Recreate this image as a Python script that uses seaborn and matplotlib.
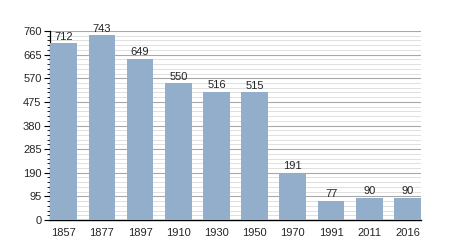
import matplotlib
matplotlib.use("Agg")
import matplotlib.pyplot as plt
import seaborn as sns
import numpy as np
from matplotlib.ticker import MultipleLocator

years = ["1857", "1877", "1897", "1910", "1930", "1950", "1970", "1991", "2011", "2016"]
population = [712, 743, 649, 550, 516, 515, 191, 77, 90, 90]
yticks = [0, 95, 190, 285, 380, 475, 570, 665, 760]

sns.set_style("white")
plt.rcParams['font.family'] = ['Liberation Sans', 'DejaVu Sans']

fig = plt.figure(figsize=(4.5, 2.5), dpi=100)
ax = fig.add_axes([0.111, 0.12, 0.825, 0.756])

sns.barplot(x=years, y=population, color="#93aecb", saturation=1, width=0.7,
            linewidth=0, edgecolor="none", ax=ax, zorder=3)

ax.set_ylim(0, 760)
ax.set_xlim(-0.36, 9.36)
ax.set_yticks(yticks)
ax.yaxis.set_minor_locator(MultipleLocator(19))
ax.grid(axis="y", which="major", color="#a8a8a8", linewidth=0.8, zorder=0)
ax.grid(axis="y", which="minor", color="#e0e0e0", linewidth=0.7, zorder=0)
ax.set_axisbelow(True)

for s in ["top", "right"]:
    ax.spines[s].set_visible(False)
ax.spines["left"].set_color("black")
ax.spines["bottom"].set_color("black")
ax.spines["left"].set_linewidth(0.9)
ax.spines["bottom"].set_linewidth(1.0)

ax.tick_params(axis="y", which="major", left=True, length=4, width=0.8, color="black", labelsize=8, pad=2)
ax.tick_params(axis="y", which="minor", left=True, length=2, width=0.6, color="black")
ax.tick_params(axis="x", which="both", bottom=False, labelsize=8, pad=2)

ax.bar_label(ax.containers[0], labels=[str(v) for v in population], padding=1, fontsize=8)
ax.set_xlabel("")
ax.set_ylabel("")

fig.savefig("out.png", dpi=100)
